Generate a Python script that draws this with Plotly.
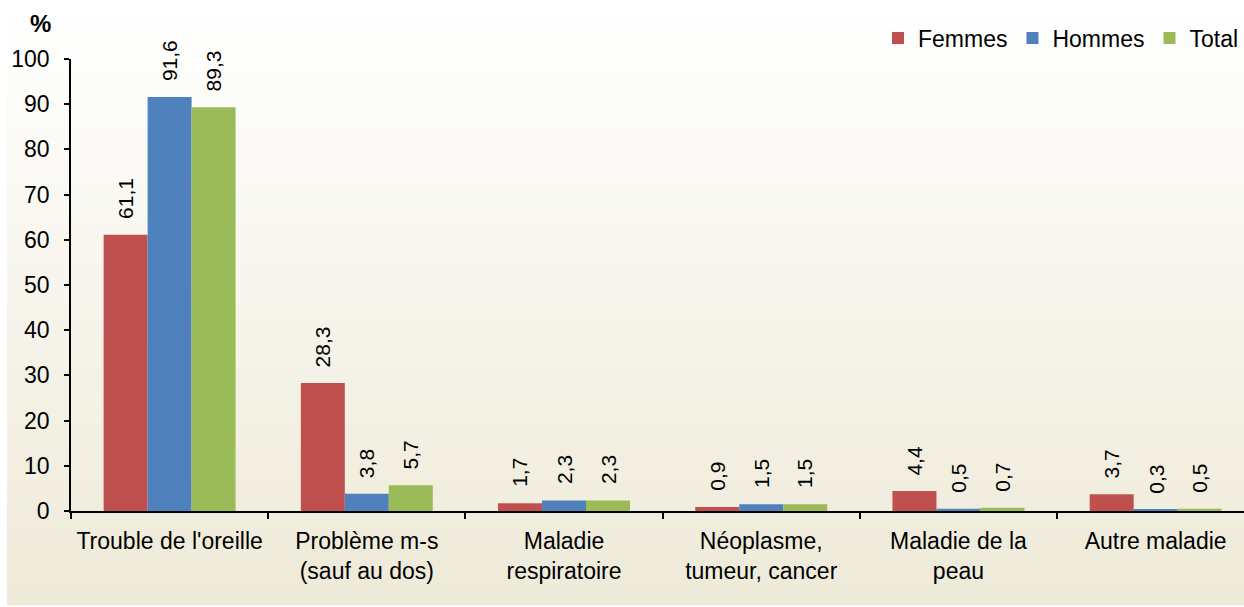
import plotly.graph_objects as go

# Categories and values (%)
categories = [
    "Trouble de l'oreille",
    "Problème m-s<br>(sauf au dos)",
    "Maladie<br>respiratoire",
    "Néoplasme,<br>tumeur, cancer",
    "Maladie de la<br>peau",
    "Autre maladie",
]
femmes = [61.1, 28.3, 1.7, 0.9, 4.4, 3.7]
hommes = [91.6, 3.8, 2.3, 1.5, 0.5, 0.3]
total = [89.3, 5.7, 2.3, 1.5, 0.7, 0.5]

series = [
    ("Femmes", femmes, "#C0504D"),
    ("Hommes", hommes, "#4F81BD"),
    ("Total", total, "#9BBB59"),
]

W, H = 1244, 607
ML, MR, MT, MB = 71, 0, 59, 96
plot_w = W - ML - MR
plot_h = H - MT - MB

FONT = "Liberation Sans, Arial, sans-serif"


def px_x(px):
    return (px - ML) / plot_w


def px_y(py):
    return (H - MB - py) / plot_h


fig = go.Figure()

for name, vals, color in series:
    fig.add_trace(go.Bar(
        name=name, x=categories, y=vals,
        marker=dict(color=color, line=dict(width=0)),
        hoverinfo="skip",
    ))

# value labels above each bar, rotated
bargap = 0.331
bar_w = (1 - bargap) / 3
offsets = [-bar_w, 0, bar_w]
annotations = []
for (name, vals, color), off in zip(series, offsets):
    for i, v in enumerate(vals):
        annotations.append(dict(
            x=i + off, y=v, xref="x", yref="y",
            text=f"{v:.1f}".replace(".", ","),
            textangle=-90, showarrow=False,
            xanchor="center", yanchor="bottom", yshift=14,
            font=dict(family=FONT, size=21, color="#000000"),
        ))

annotations.append(dict(
    x=px_x(40), y=px_y(23), xref="paper", yref="paper",
    text="<b>%</b>", showarrow=False, xanchor="center", yanchor="middle",
    font=dict(family=FONT, size=24, color="#000000"),
))

# soft vertical background gradient (white to beige)
shapes = []
top_c = (255, 255, 255)
bot_c = (238, 234, 216)
n = 80
y_top, y_bot = 0, 605
for k in range(n):
    a = y_top + (y_bot - y_top) * k / n
    b = y_top + (y_bot - y_top) * (k + 1) / n
    t = (k + 0.5) / n
    c = tuple(round(top_c[j] + (bot_c[j] - top_c[j]) * t) for j in range(3))
    shapes.append(dict(
        type="rect", xref="paper", yref="paper",
        x0=px_x(7), x1=px_x(W + 2), y0=px_y(b + 0.6), y1=px_y(a),
        fillcolor=f"rgb{c}", line=dict(width=0), layer="below",
    ))

fig.update_layout(
    width=W, height=H,
    margin=dict(l=ML, r=MR, t=MT, b=MB, pad=0),
    paper_bgcolor="white",
    plot_bgcolor="rgba(0,0,0,0)",
    barmode="group", bargap=bargap, bargroupgap=0,
    font=dict(family=FONT, size=22, color="#000000"),
    showlegend=True,
    legend=dict(
        orientation="h", x=1, xanchor="right", y=px_y(38), yanchor="middle",
        font=dict(family=FONT, size=23, color="#000000"),
        bgcolor="rgba(0,0,0,0)", traceorder="normal",
    ),
    annotations=annotations,
    shapes=shapes,
)

fig.update_xaxes(
    type="category", range=[-0.5, 5.448],
    showline=True, linecolor="#000000", linewidth=1.5,
    ticks="outside", tickson="boundaries", ticklen=6, tickwidth=1.5,
    tickcolor="#000000", showgrid=False, zeroline=False,
    tickfont=dict(family=FONT, size=23, color="#000000"),
    ticklabelstandoff=9,
    fixedrange=True,
)
fig.update_yaxes(
    range=[0, 100], dtick=10, tick0=0,
    showline=True, linecolor="#000000", linewidth=1.5,
    ticks="outside", ticklen=5, tickwidth=1.5, tickcolor="#000000",
    showgrid=False, zeroline=False,
    tickfont=dict(family=FONT, size=23, color="#000000"),
    ticklabelstandoff=10,
    fixedrange=True,
)

fig.write_html("out.html", config={"displayModeBar": False})
